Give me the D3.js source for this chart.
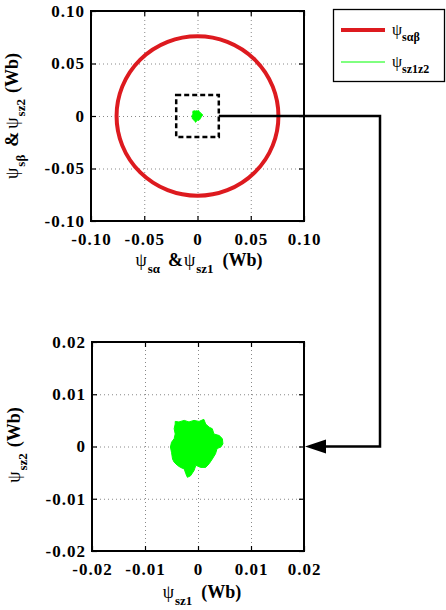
<!DOCTYPE html>
<html>
<head>
<meta charset="utf-8">
<script src="https://cdn.jsdelivr.net/npm/d3@7"></script>
<style>
  body { margin: 0; background: #fff; }
  svg { display: block; }
  .tick text { font-weight: bold; font-size: 17px; letter-spacing: 1px; fill: #000; }
  .tick line { stroke: #000; stroke-width: 1.2; }
  .grid .tick line { stroke: #888; stroke-width: 1; stroke-dasharray: 1,3; }
  .lbl { fill: #000; }
</style>
</head>
<body>
<script>
// top plot: stator flux in alpha-beta plane
let topTicks = [-0.1, -0.05, 0, 0.05, 0.1];
let topTickLabels = ['-0.10', '-0.05', '0', '0.05', '0.10'];
let alphaBetaRadius = [0.076];
let zoomBox = [-0.02, 0.02];

// bottom plot: z1-z2 flux (zoomed)
let bottomTicks = [-0.02, -0.01, 0, 0.01, 0.02];
let bottomTickLabels = ['-0.02', '-0.01', '0', '0.01', '0.02'];
// outline of the green z1z2 trajectory cloud
let z1 = [-0.0043, -0.0036, -0.0026, -0.0017, -0.00075, 0.0002, 0.0011, 0.00145, 0.0021, 0.0027, 0.0030, 0.0040, 0.0046, 0.0047, 0.0043, 0.0036, 0.0033, 0.0027, 0.0021, 0.00145, 0.0005, -0.0004, -0.00075, -0.0014, -0.0020, -0.0023, -0.0026, -0.0033, -0.0039, -0.0045, -0.0048, -0.0050, -0.0052, -0.0050, -0.0045, -0.0043, -0.0045, -0.0043];
let z2 = [0.0048, 0.0047, 0.0050, 0.0047, 0.0050, 0.0048, 0.0052, 0.0043, 0.0037, 0.0034, 0.0024, 0.0021, 0.0015, 0.0005, -0.0001, -0.0004, -0.0014, -0.0024, -0.0033, -0.0040, -0.0040, -0.0036, -0.0046, -0.0056, -0.0059, -0.0052, -0.0043, -0.0040, -0.0036, -0.0030, -0.0024, -0.0011, -0.0001, 0.0008, 0.0015, 0.0024, 0.0034, 0.0043];

let legendNames = [['ψ', 'sαβ'], ['ψ', 'sz1z2']];
let red = '#dd1a1f';
let green = '#00ff00';
let serif = 'Liberation Serif';

let svg = d3.select('body').append('svg').attr('width', 446).attr('height', 610);

let xT = d3.scaleLinear().domain([-0.1, 0.1]).range([91, 304]);
let yT = d3.scaleLinear().domain([-0.1, 0.1]).range([221, 11]);
let xB = d3.scaleLinear().domain([-0.02, 0.02]).range([92, 304]);
let yB = d3.scaleLinear().domain([-0.02, 0.02]).range([551, 342]);

function drawFrame(x, y, ticks, labels) {
  let x0 = x.range()[0], x1 = x.range()[1];
  let y0 = y.range()[1], y1 = y.range()[0];
  let fmt = function (d, i) { return labels[i]; };
  // dotted grid
  svg.append('g').attr('class', 'grid').attr('transform', 'translate(0,' + y1 + ')')
    .call(d3.axisBottom(x).tickValues(ticks).tickSize(-(y1 - y0)).tickFormat(''))
    .call(g => g.select('.domain').remove());
  svg.append('g').attr('class', 'grid').attr('transform', 'translate(' + x0 + ',0)')
    .call(d3.axisLeft(y).tickValues(ticks).tickSize(-(x1 - x0)).tickFormat(''))
    .call(g => g.select('.domain').remove());
  // axes with inward ticks
  svg.append('g').attr('transform', 'translate(0,' + y1 + ')')
    .call(d3.axisBottom(x).tickValues(ticks).tickSize(-5).tickPadding(12).tickFormat(fmt))
    .call(g => g.select('.domain').remove())
    .call(g => g.selectAll('text').attr('font-family', serif));
  svg.append('g').attr('transform', 'translate(' + x0 + ',0)')
    .call(d3.axisLeft(y).tickValues(ticks).tickSize(-5).tickPadding(6).tickFormat(fmt))
    .call(g => g.select('.domain').remove())
    .call(g => g.selectAll('text').attr('font-family', serif));
  svg.append('g').attr('transform', 'translate(0,' + y0 + ')')
    .call(d3.axisTop(x).tickValues(ticks).tickSize(-5).tickFormat(''))
    .call(g => g.select('.domain').remove());
  svg.append('g').attr('transform', 'translate(' + x1 + ',0)')
    .call(d3.axisRight(y).tickValues(ticks).tickSize(-5).tickFormat(''))
    .call(g => g.select('.domain').remove());
  svg.append('rect').attr('x', x0).attr('y', y0).attr('width', x1 - x0).attr('height', y1 - y0)
    .attr('fill', 'none').attr('stroke', '#000').attr('stroke-width', 2);
}

drawFrame(xT, yT, topTicks, topTickLabels);
drawFrame(xB, yB, bottomTicks, bottomTickLabels);

let cloud = z1.map((d, i) => [d, z2[i]]);

// top plot marks
svg.selectAll('ellipse.ab').data(alphaBetaRadius).enter().append('ellipse')
  .attr('cx', xT(0)).attr('cy', yT(0))
  .attr('rx', d => xT(d) - xT(0)).attr('ry', d => yT(0) - yT(d))
  .attr('fill', 'none').attr('stroke', red).attr('stroke-width', 4);

svg.append('path').datum(cloud)
  .attr('d', d3.line().x(d => xT(d[0])).y(d => yT(d[1])).curve(d3.curveLinearClosed))
  .attr('fill', green).attr('stroke', green).attr('stroke-width', 1);

svg.append('rect')
  .attr('x', xT(zoomBox[0])).attr('y', yT(zoomBox[1]))
  .attr('width', xT(zoomBox[1]) - xT(zoomBox[0])).attr('height', yT(zoomBox[0]) - yT(zoomBox[1]))
  .attr('fill', 'none').attr('stroke', '#000').attr('stroke-width', 2.5).attr('stroke-dasharray', '5,3');

// connector from zoom box to bottom plot
let cx = 380;
svg.append('path')
  .attr('d', 'M' + xT(zoomBox[1]) + ',' + yT(0) + 'H' + cx + 'V' + yB(0) + 'H' + (xB(0.02) + 18))
  .attr('fill', 'none').attr('stroke', '#000').attr('stroke-width', 2.5);
svg.append('path')
  .attr('d', 'M' + (xB(0.02) + 1) + ',' + yB(0) + 'l21,-7v14z')
  .attr('fill', '#000');

// bottom plot cloud
svg.append('path').datum(cloud)
  .attr('d', d3.line().x(d => xB(d[0])).y(d => yB(d[1])).curve(d3.curveLinearClosed))
  .attr('fill', green).attr('stroke', green).attr('stroke-width', 1);

// axis labels: psi normal, subscripts bold and lowered, gaps via dx
function psiLabel(g, parts) {
  let t = g.append('text').attr('class', 'lbl').attr('text-anchor', 'middle').attr('font-family', serif);
  let down = false;
  parts.forEach(p => {
    let s = t.append('tspan').attr('dx', p.dx || 0);
    if (p.sub) {
      s.text(p.sub).attr('font-weight', 'bold').attr('font-size', 13).attr('dy', 7);
      down = true;
    } else {
      s.text(p.t).attr('font-weight', p.b ? 'bold' : 'normal').attr('font-size', 18).attr('dy', down ? -7 : 0);
      down = false;
    }
  });
  return t;
}

psiLabel(svg.append('g').attr('transform', 'translate(199,266)'),
  [{ t: 'ψ' }, { sub: 'sα', dx: 1 }, { t: '&', b: 1, dx: 8 }, { t: 'ψ', dx: 1 }, { sub: 'sz1', dx: 1 }, { t: '(Wb)', b: 1, dx: 9 }]);
psiLabel(svg.append('g').attr('transform', 'translate(18,116) rotate(-90)'),
  [{ t: 'ψ' }, { sub: 'sβ', dx: 1 }, { t: '&', b: 1, dx: 8 }, { t: 'ψ', dx: 3 }, { sub: 'sz2', dx: 1 }, { t: '(Wb)', b: 1, dx: 6 }]);
psiLabel(svg.append('g').attr('transform', 'translate(202,598)'),
  [{ t: 'ψ' }, { sub: 'sz1', dx: 1 }, { t: '(Wb)', b: 1, dx: 9 }]);
psiLabel(svg.append('g').attr('transform', 'translate(20,445) rotate(-90)'),
  [{ t: 'ψ' }, { sub: 'sz2', dx: 1 }, { t: '(Wb)', b: 1, dx: 6 }]);

// legend
let leg = svg.append('g');
leg.append('rect').attr('x', 333.5).attr('y', 9.5).attr('width', 111).attr('height', 72)
  .attr('fill', '#fff').attr('stroke', '#000').attr('stroke-width', 1.3);
let legColors = [red, green];
let legWidths = [4, 1];
let row = leg.selectAll('g.row').data(legendNames).enter().append('g')
  .attr('transform', (d, i) => 'translate(0,' + (30 + i * 32) + ')');
row.append('line').attr('x1', 341).attr('x2', 385)
  .attr('stroke', (d, i) => legColors[i]).attr('stroke-width', (d, i) => legWidths[i]);
let lt = row.append('text').attr('class', 'lbl').attr('x', 392).attr('y', 5).attr('font-family', serif);
lt.append('tspan').text(d => d[0]).attr('font-size', 16);
lt.append('tspan').text(d => d[1]).attr('font-size', 12).attr('font-weight', 'bold').attr('dy', 6);
</script>
</body>
</html>
